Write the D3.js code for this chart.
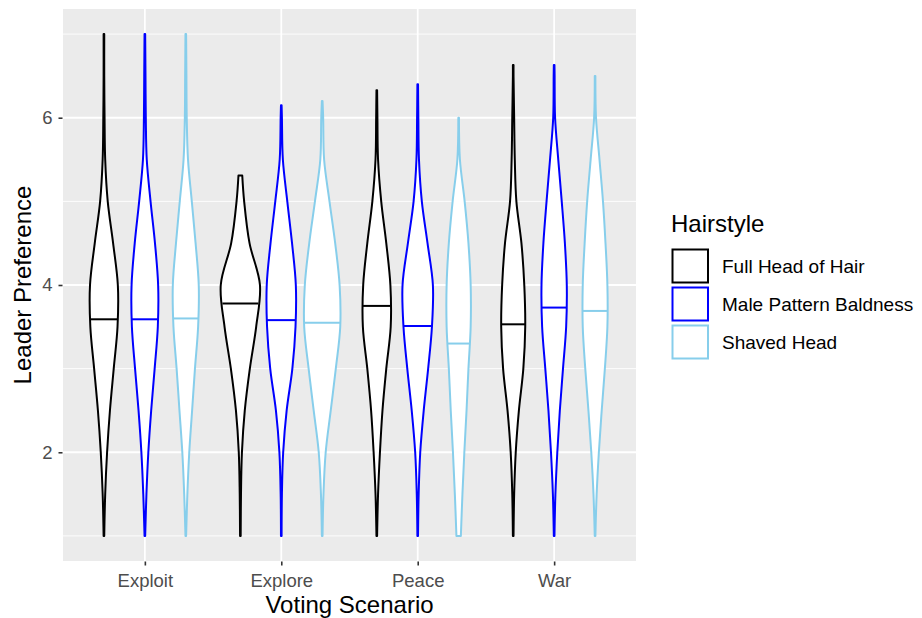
<!DOCTYPE html>
<html><head><meta charset="utf-8">
<script src="https://cdn.jsdelivr.net/npm/d3@7"></script>
<style>
body{margin:0;background:#fff}
svg{display:block}
text{font-family:"Liberation Sans",Arial,Helvetica,sans-serif}
</style>
</head><body>
<svg id="chart" width="922" height="618"></svg>
<script>
// ---------- data ----------
const scenarios = ["Exploit", "Explore", "Peace", "War"];
const hairstyles = ["Full Head of Hair", "Male Pattern Baldness", "Shaved Head"];
const hairColors = ["#000000", "#0000FF", "#87CEEB"];
const yMajorTicks = [2, 4, 6];
const yMinorTicks = [1, 3, 5, 7];

// y-levels at which the violin density (half-width) was read
const densityLevels = [1, 1.5, 2, 2.5, 3, 3.5, 4, 4.5, 5, 5.5, 6, 6.5, 7];

// [scenario][hairstyle]
const minValues = [[1, 1, 1], [1, 1, 1], [1, 1, 1], [1, 1, 1]];
const maxValues = [[7, 7, 7], [5.31, 6.15, 6.2], [6.33, 6.40, 6.0], [6.63, 6.63, 6.5]];
const medians = [[3.59, 3.59, 3.60], [3.78, 3.58, 3.55], [3.75, 3.51, 3.30], [3.53, 3.73, 3.69]];

// relative densities at densityLevels below each max
const densExploit = [
  [1, 4, 10, 19, 31, 43, 44, 29, 12, 4, 2, 1],
  [1, 5, 11, 20, 31, 41, 42, 32, 18, 6, 3, 2],
  [1, 5, 11, 20, 29, 39, 41, 31, 19, 7, 3, 2]
];
const densExplore = [
  [1, 2, 5, 14, 30, 50, 62, 29, 12],
  [1, 2, 6, 17, 35, 45, 46, 34, 19, 5, 2],
  [1, 4, 11, 27, 43, 57, 55, 41, 23, 6, 3]
];
const densPeace = [
  [1, 4, 10, 18, 30, 44, 43, 30, 14, 4, 2],
  [1, 3, 8, 19, 33, 45, 48, 31, 13, 4, 2],
  [7, 12, 18, 25, 31, 38, 38, 31, 19, 4]
];
const densWar = [
  [1, 3, 8, 18, 32, 38, 35, 26, 10, 5, 3, 1],
  [1, 4, 10, 18, 28, 38, 40, 34, 24, 13, 3, 1.5],
  [1, 5, 12, 21, 31, 39, 39, 33, 25, 14, 3]
];
// density at the top end (max value)
const topDensities = [[1, 1, 1], [6, 1, 1], [1, 1, 1], [1, 1, 1]];
const maxDensity = 63;

const densities = [densExploit, densExplore, densPeace, densWar];

// ---------- layout ----------
const svg = d3.select("#chart");
const panel = {left: 63, right: 636, top: 9, bottom: 561};

const x = d3.scalePoint().domain(scenarios).range([panel.left, panel.right]).padding(0.6);
const step = x.step();
const dodge = d3.scalePoint().domain(hairstyles).range([-0.3 * step, 0.3 * step]);
const y = d3.scaleLinear().domain([0.7, 7.3]).range([panel.bottom, panel.top]);
const w = d3.scaleLinear().domain([0, maxDensity]).range([0, 0.146 * step]);

// panel background
svg.append("rect")
  .attr("x", panel.left).attr("y", panel.top)
  .attr("width", panel.right - panel.left).attr("height", panel.bottom - panel.top)
  .attr("fill", "#EBEBEB");

// grid
const grid = svg.append("g");
grid.selectAll(".minor").data(yMinorTicks).join("line")
  .attr("x1", panel.left).attr("x2", panel.right)
  .attr("y1", d => y(d)).attr("y2", d => y(d))
  .attr("stroke", "#fff").attr("stroke-width", 0.9);
grid.selectAll(".major").data(yMajorTicks).join("line")
  .attr("x1", panel.left).attr("x2", panel.right)
  .attr("y1", d => y(d)).attr("y2", d => y(d))
  .attr("stroke", "#fff").attr("stroke-width", 1.8);
grid.selectAll(".vmajor").data(scenarios).join("line")
  .attr("x1", d => x(d)).attr("x2", d => x(d))
  .attr("y1", panel.top).attr("y2", panel.bottom)
  .attr("stroke", "#fff").attr("stroke-width", 1.8);

// violins
const area = d3.area()
  .y(d => y(d.v))
  .x0(d => d.c - w(d.d))
  .x1(d => d.c + w(d.d))
  .curve(d3.curveCatmullRom.alpha(0.5));

function widthAt(pts, v) {
  for (let i = 0; i < pts.length - 1; i++) {
    const a = pts[i], b = pts[i + 1];
    if (v >= a.v && v <= b.v) {
      const t = (v - a.v) / (b.v - a.v);
      return a.d + t * (b.d - a.d);
    }
  }
  return pts[pts.length - 1].d;
}

const vg = svg.append("g");
scenarios.forEach((s, si) => {
  hairstyles.forEach((h, hi) => {
    const c = x(s) + dodge(h);
    const dens = densities[si][hi];
    const pts = [];
    densityLevels.forEach((lv, li) => {
      if (lv >= minValues[si][hi] && lv < maxValues[si][hi] && li < dens.length)
        pts.push({v: lv, d: dens[li], c});
    });
    pts.push({v: maxValues[si][hi], d: topDensities[si][hi], c});
    vg.append("path")
      .attr("d", area(pts))
      .attr("fill", "#fff")
      .attr("stroke", hairColors[hi])
      .attr("stroke-width", 2)
      .attr("stroke-linejoin", "round");
    const m = medians[si][hi];
    const mw = w(widthAt(pts, m));
    vg.append("line")
      .attr("x1", c - mw).attr("x2", c + mw)
      .attr("y1", y(m)).attr("y2", y(m))
      .attr("stroke", hairColors[hi]).attr("stroke-width", 2);
  });
});

// axes
const yAxis = svg.append("g").attr("transform", `translate(${panel.left - 0.5},0)`)
  .call(d3.axisLeft(y).tickValues(yMajorTicks).tickFormat(d3.format("d")).tickSize(4).tickPadding(6));
const xAxis = svg.append("g").attr("transform", `translate(0,${panel.bottom + 0.5})`)
  .call(d3.axisBottom(x).tickSize(4).tickPadding(8));
[yAxis, xAxis].forEach(a => {
  a.select(".domain").remove();
  a.selectAll(".tick line").attr("stroke", "#333333").attr("stroke-width", 1.6);
  a.selectAll(".tick text").attr("fill", "#4D4D4D")
    .style("font-size", "18.5px")
    .style("font-family", "'Liberation Sans', Arial, sans-serif");
});

// axis titles
svg.append("text")
  .attr("x", (panel.left + panel.right) / 2).attr("y", 613)
  .attr("text-anchor", "middle").attr("fill", "#000")
  .style("font-size", "24px").text("Voting Scenario");
svg.append("text")
  .attr("transform", `translate(31,${(panel.top + panel.bottom) / 2}) rotate(-90)`)
  .attr("text-anchor", "middle").attr("fill", "#000")
  .style("font-size", "24px").text("Leader Preference");

// legend
const legend = svg.append("g");
legend.append("text").attr("x", 671).attr("y", 231.5)
  .attr("fill", "#000").style("font-size", "24px").text("Hairstyle");
const ly = d3.scaleBand().domain(hairstyles).range([247, 361]).paddingInner(0);
hairstyles.forEach((h, i) => {
  legend.append("rect")
    .attr("x", 672.5).attr("y", ly(h) + 2.5)
    .attr("width", 35.5).attr("height", ly.bandwidth() - 5)
    .attr("fill", "#fff").attr("stroke", hairColors[i]).attr("stroke-width", 2);
  legend.append("text")
    .attr("x", 722).attr("y", ly(h) + ly.bandwidth() / 2)
    .attr("dy", "0.35em").attr("fill", "#000")
    .style("font-size", "19px").text(h);
});
</script>
</body></html>
